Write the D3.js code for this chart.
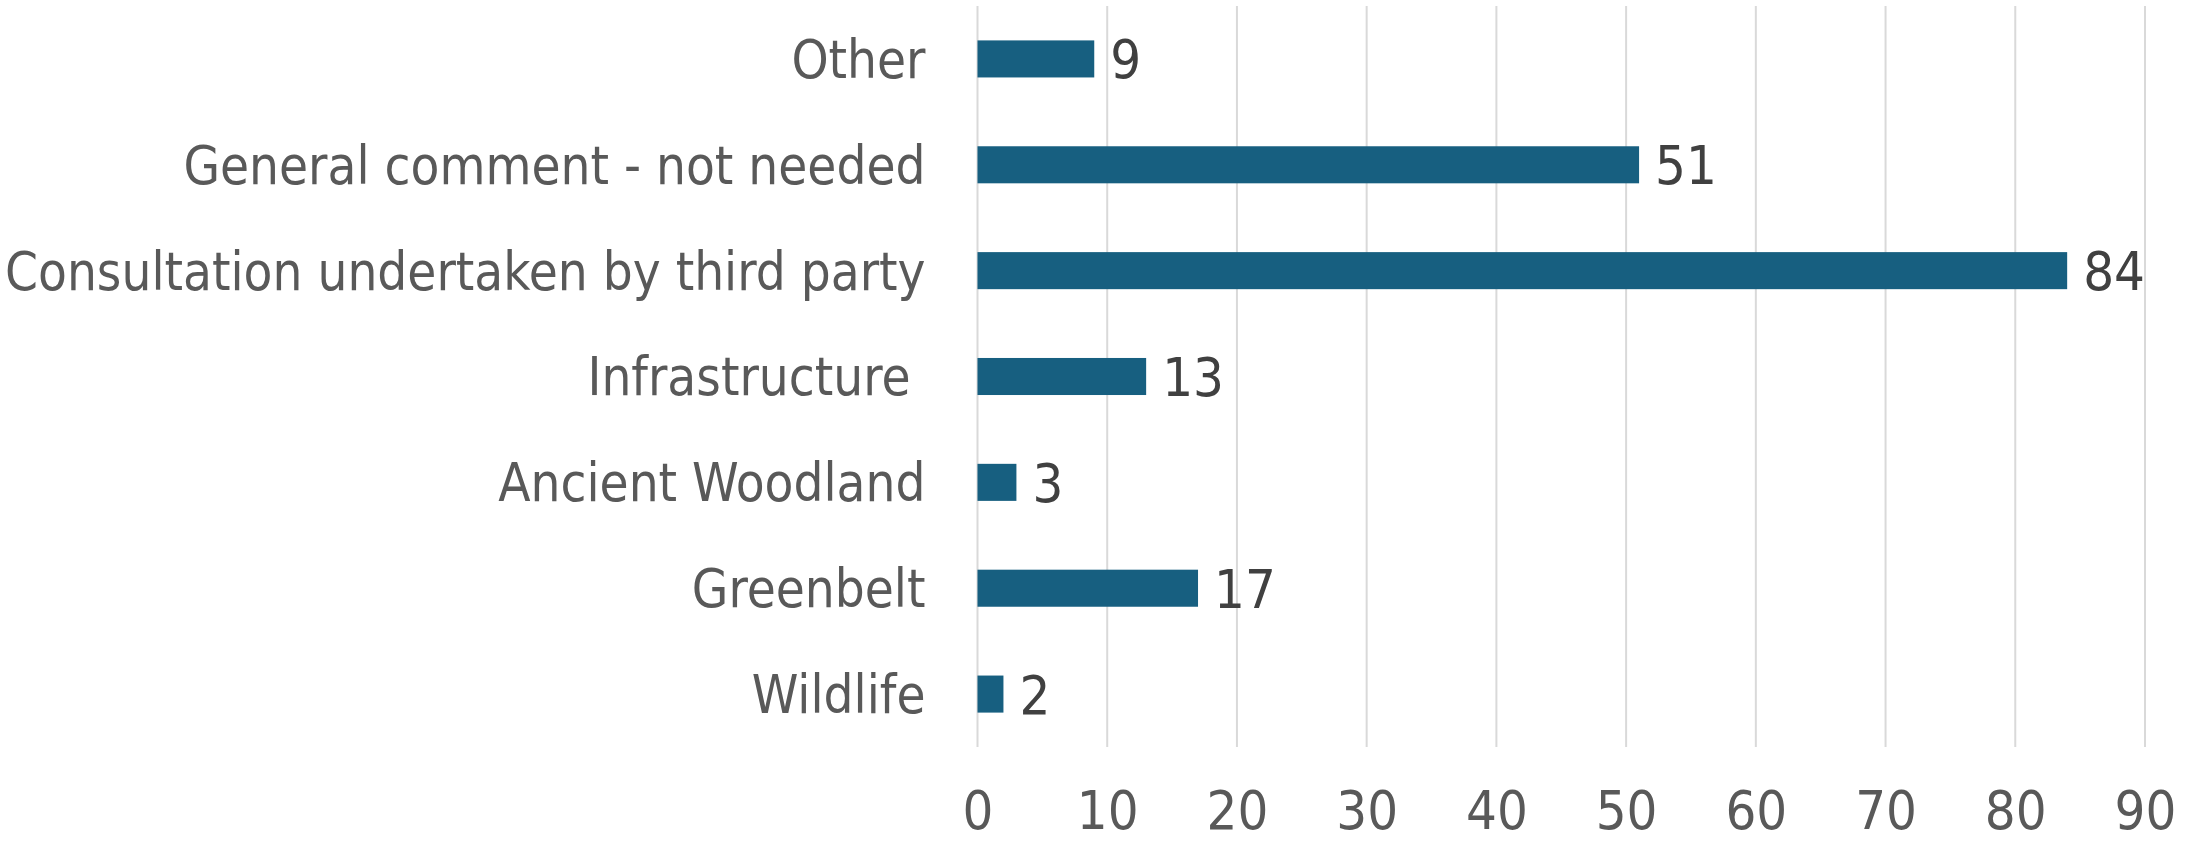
<!DOCTYPE html>
<html>
<head>
<meta charset="utf-8">
<script src="https://cdn.jsdelivr.net/npm/d3@7"></script>
<style>
  body { margin: 0; background: #fff; }
  svg text { font-family: "DejaVu Sans Condensed", "DejaVu Sans", sans-serif; white-space: pre; }
</style>
</head>
<body>
<svg id="chart"></svg>
<script>
// data, top to bottom
const categories = ["Other", "General comment - not needed", "Consultation undertaken by third party",
  "Infrastructure ", "Ancient Woodland", "Greenbelt", "Wildlife"];
const counts = [9, 51, 84, 13, 3, 17, 2];
const xTicks = [0, 10, 20, 30, 40, 50, 60, 70, 80, 90];

const W = 2201, H = 842;
const margin = { top: 6, right: 56, bottom: 95, left: 977.5 };
const width = W - margin.left - margin.right;
const height = H - margin.top - margin.bottom;
const fs = 54;

const svg = d3.select("#chart").attr("width", W).attr("height", H)
  .append("g")
  .attr("transform", "translate(" + margin.left + "," + margin.top + ")");

const x = d3.scaleLinear().domain([0, 90]).range([0, width]);
const y = d3.scaleBand().domain(categories).range([0, height]).paddingInner(0.65).paddingOuter(0.325);

// gridlines
svg.selectAll(".grid")
  .data(xTicks)
  .enter().append("line")
  .attr("x1", d => x(d)).attr("x2", d => x(d))
  .attr("y1", 0).attr("y2", height)
  .attr("stroke", "#d9d9d9")
  .attr("stroke-width", 2);

// bars
svg.selectAll(".bar")
  .data(counts)
  .enter().append("rect")
  .attr("x", x(0))
  .attr("y", (d, i) => y(categories[i]))
  .attr("width", d => x(d) - x(0))
  .attr("height", y.bandwidth())
  .attr("fill", "#175f80");

// value labels
svg.selectAll(".val")
  .data(counts)
  .enter().append("text")
  .attr("x", d => x(d) + 16)
  .attr("y", (d, i) => y(categories[i]) + y.bandwidth() / 2)
  .attr("dy", "0.36em")
  .attr("font-size", fs)
  .attr("fill", "#404040")
  .text(d => d);

// x axis
const xAxis = svg.append("g")
  .attr("transform", "translate(0," + height + ")")
  .call(d3.axisBottom(x).tickValues(xTicks).tickSize(0));
xAxis.select(".domain").remove();
xAxis.selectAll("text")
  .attr("y", 82)
  .attr("dy", 0)
  .attr("font-size", fs)
  .attr("fill", "#595959");

// y axis
const yAxis = svg.append("g")
  .call(d3.axisLeft(y).tickSize(0).tickPadding(52));
yAxis.select(".domain").remove();
yAxis.selectAll("text")
  .attr("dy", "0.36em")
  .attr("font-size", 52.5)
  .attr("fill", "#595959");
</script>
</body>
</html>
